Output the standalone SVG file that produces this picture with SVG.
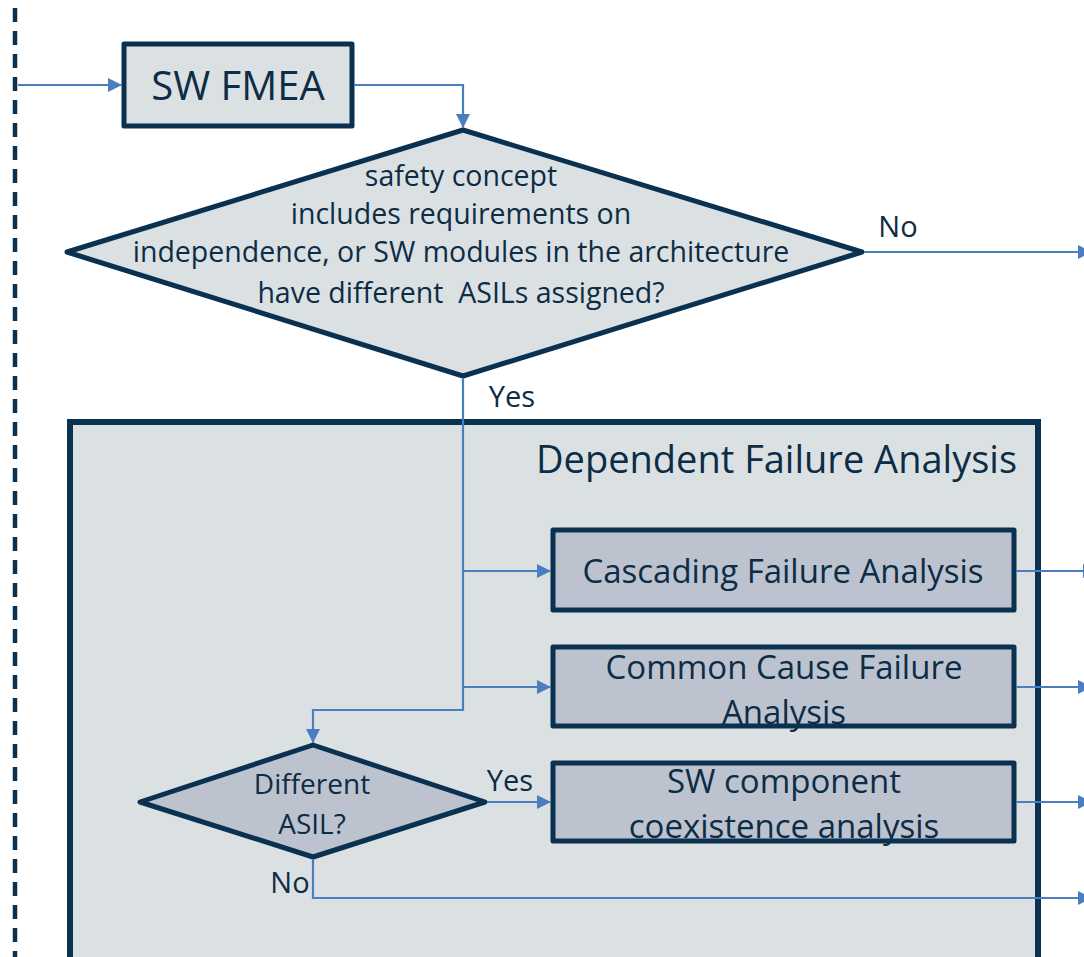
<svg xmlns="http://www.w3.org/2000/svg" width="1084" height="957" viewBox="0 0 1084 957">
<defs>
<marker id="ah" viewBox="0 0 14 14" refX="14" refY="7" markerWidth="14" markerHeight="14" markerUnits="userSpaceOnUse" orient="auto">
<path d="M0,0 L14,7 L0,14 z" fill="#4a7ebf"/>
</marker>
<style>
.t{font-family:"Open Sans","Noto Sans",sans-serif;fill:#0d2c45;text-anchor:middle}
.c{fill:none;stroke:#4a7ebf;stroke-width:2.2}
.n1{fill:#dbe1e3;stroke:#0b3150;stroke-width:5;stroke-linejoin:round}
.n2{fill:#bcc3cf;stroke:#0b3150;stroke-width:5;stroke-linejoin:round}
.s{fill:none;stroke:#0b3150;stroke-width:5;stroke-linejoin:round}
</style>
</defs>
<rect width="1084" height="957" fill="#ffffff"/>
<line x1="15" y1="8" x2="15" y2="957" stroke="#0b3150" stroke-width="4.5" stroke-dasharray="14,9"/>
<g id="dfa">
<rect x="70" y="422" width="968" height="545" fill="#dbe1e3" stroke="#0b3150" stroke-width="6"/>
<text class="t" x="1017" y="473" font-size="38" style="text-anchor:end">Dependent Failure Analysis</text>
</g>
<g id="swfmea">
<rect class="n1" x="124" y="44" width="228" height="82"/>
<text class="t" x="238" y="100" font-size="40">SW FMEA</text>
</g>
<g id="decision1">
<polygon class="n1" points="463,130 862,252 463,376 67,252"/>
<text class="t" x="461" y="186" font-size="28.5">safety concept</text>
<text class="t" x="461" y="224" font-size="28.5">includes requirements on</text>
<text class="t" x="461" y="262" font-size="28.5">independence, or SW modules in the architecture</text>
<text class="t" x="461" y="303" font-size="28.5" xml:space="preserve">have different  ASILs assigned?</text>
</g>
<g id="cascading">
<rect class="n2" x="553" y="530" width="461" height="80"/>
<text class="t" x="783" y="583" font-size="33">Cascading Failure Analysis</text>
</g>
<g id="ccf">
<rect x="553" y="647" width="461" height="79" fill="#bcc3cf"/>
<text class="t" x="784" y="679" font-size="33">Common Cause Failure</text>
<text class="t" x="784" y="724" font-size="33">Analysis</text>
<rect class="s" x="553" y="647" width="461" height="79"/>
</g>
<g id="coexist">
<rect x="553" y="763" width="461" height="78" fill="#bcc3cf"/>
<text class="t" x="784" y="793" font-size="33">SW component</text>
<text class="t" x="784" y="838" font-size="33">coexistence analysis</text>
<rect class="s" x="553" y="763" width="461" height="78"/>
</g>
<g id="decision2">
<polygon class="n2" points="313,745 485,802 313,857 140,802"/>
<text class="t" x="312" y="794" font-size="28">Different</text>
<text class="t" x="312" y="834" font-size="28">ASIL?</text>
</g>
<g id="connectors">
<line class="c" x1="18" y1="85" x2="122" y2="85" marker-end="url(#ah)"/>
<polyline class="c" points="354,85 463,85 463,128" marker-end="url(#ah)"/>
<line class="c" x1="864" y1="252" x2="1092" y2="252" marker-end="url(#ah)"/>
<polyline class="c" points="463,378 463,710 313,710 313,743" marker-end="url(#ah)"/>
<line class="c" x1="463" y1="571" x2="551" y2="571" marker-end="url(#ah)"/>
<line class="c" x1="463" y1="687" x2="551" y2="687" marker-end="url(#ah)"/>
<line class="c" x1="487" y1="802" x2="551" y2="802" marker-end="url(#ah)"/>
<polyline class="c" points="313,859 313,898 1092,898" marker-end="url(#ah)"/>
<line class="c" x1="1016" y1="571" x2="1097" y2="571" marker-end="url(#ah)"/>
<line class="c" x1="1016" y1="687" x2="1092" y2="687" marker-end="url(#ah)"/>
<line class="c" x1="1016" y1="802" x2="1092" y2="802" marker-end="url(#ah)"/>
<text class="t" x="898" y="237" font-size="29">No</text>
<text class="t" x="512" y="407" font-size="29">Yes</text>
<text class="t" x="510" y="791" font-size="29">Yes</text>
<text class="t" x="290" y="893" font-size="29">No</text>
</g>
</svg>
